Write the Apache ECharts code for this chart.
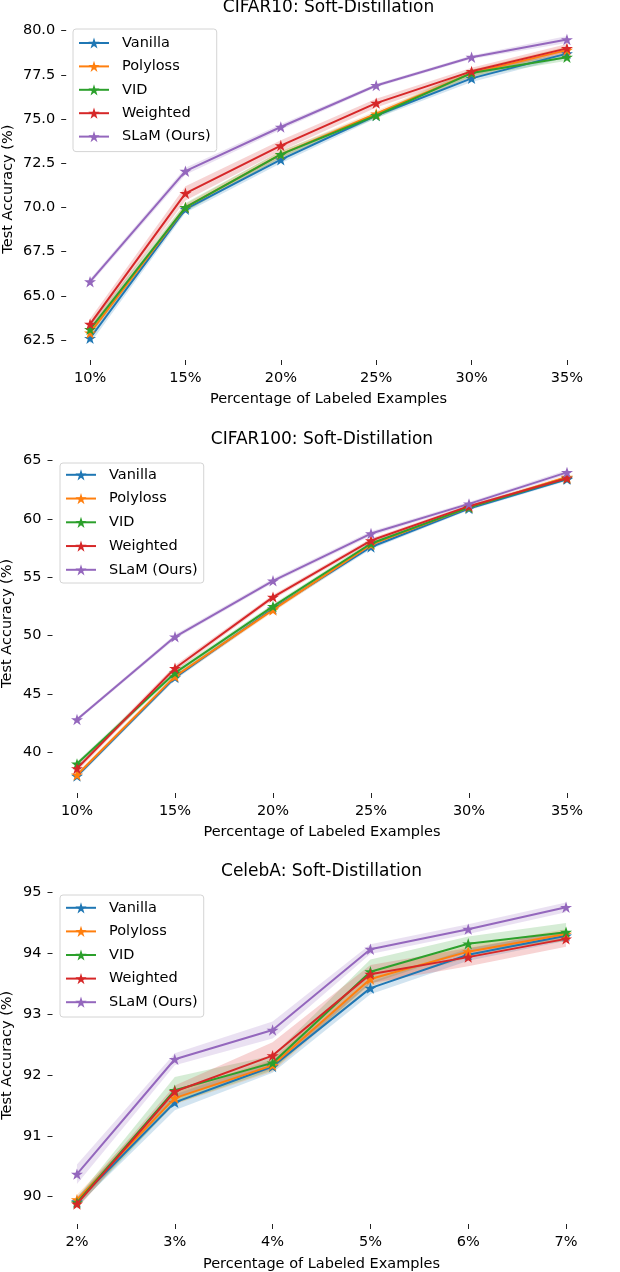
<!DOCTYPE html>
<html>
<head>
<meta charset="utf-8">
<script src="https://cdn.jsdelivr.net/npm/echarts@6/dist/echarts.min.js"></script>
<style>html,body{margin:0;padding:0;background:#fff}#c{width:620px;height:1272px}</style>
</head>
<body>
<div id="c"></div>
<script>
// ---------- data ----------
const methods = ['Vanilla', 'Polyloss', 'VID', 'Weighted', 'SLaM (Ours)'];
const xCifar = [10, 15, 20, 25, 30, 35];
const xCeleba = [2, 3, 4, 5, 6, 7];

// CIFAR10
const c10Vanilla  = [62.6, 69.9, 72.7, 75.2, 77.3, 78.7];
const c10Polyloss = [62.9, 70.0, 73.0, 75.3, 77.6, 78.9];
const c10VID      = [63.1, 70.0, 73.0, 75.2, 77.6, 78.5];
const c10Weighted = [63.4, 70.8, 73.5, 75.9, 77.7, 79.0];
const c10SLaM     = [65.8, 72.05, 74.55, 76.9, 78.5, 79.5];
const c10VanillaStd  = [0.3, 0.2, 0.2, 0.15, 0.2, 0.2];
const c10PolylossStd = [0.3, 0.2, 0.2, 0.15, 0.2, 0.2];
const c10VIDStd      = [0.3, 0.25, 0.2, 0.15, 0.2, 0.2];
const c10WeightedStd = [0.3, 0.4, 0.3, 0.25, 0.2, 0.25];
const c10SLaMStd     = [0.15, 0.2, 0.15, 0.1, 0.1, 0.2];

// CIFAR100
const c100Vanilla  = [37.95, 46.4, 52.3, 57.6, 60.9, 63.4];
const c100Polyloss = [38.05, 46.5, 52.2, 57.8, 61.0, 63.6];
const c100VID      = [39.0, 46.8, 52.5, 57.9, 61.0, 63.5];
const c100Weighted = [38.6, 47.2, 53.3, 58.15, 61.1, 63.5];
const c100SLaM     = [42.8, 49.9, 54.7, 58.75, 61.3, 64.0];
const c100VanillaStd  = [0.2, 0.2, 0.2, 0.2, 0.15, 0.15];
const c100PolylossStd = [0.2, 0.2, 0.2, 0.2, 0.15, 0.15];
const c100VIDStd      = [0.2, 0.25, 0.2, 0.2, 0.15, 0.15];
const c100WeightedStd = [0.25, 0.25, 0.2, 0.2, 0.15, 0.15];
const c100SLaMStd     = [0.15, 0.2, 0.2, 0.2, 0.15, 0.2];

// CelebA
const ceVanilla  = [89.92, 91.55, 92.14, 93.43, 93.98, 94.29];
const cePolyloss = [89.95, 91.62, 92.16, 93.58, 94.03, 94.32];
const ceVID      = [89.9, 91.75, 92.2, 93.7, 94.16, 94.35];
const ceWeighted = [89.88, 91.73, 92.32, 93.66, 93.94, 94.24];
const ceSLaM     = [90.37, 92.26, 92.74, 94.07, 94.4, 94.76];
const ceVanillaStd  = [0.08, 0.13, 0.1, 0.1, 0.1, 0.08];
const cePolylossStd = [0.08, 0.1, 0.1, 0.12, 0.1, 0.08];
const ceVIDStd      = [0.08, 0.22, 0.12, 0.2, 0.12, 0.15];
const ceWeightedStd = [0.08, 0.1, 0.22, 0.15, 0.15, 0.13];
const ceSLaMStd     = [0.16, 0.1, 0.14, 0.08, 0.08, 0.08];

const titles = ['CIFAR10: Soft-Distillation', 'CIFAR100: Soft-Distillation', 'CelebA: Soft-Distillation'];
const yTicks = [
  [62.5, 65, 67.5, 70, 72.5, 75, 77.5, 80],
  [40, 45, 50, 55, 60, 65],
  [90, 91, 92, 93, 94, 95]
];
const xTicksCifar = [10, 15, 20, 25, 30, 35];
const xTicksCeleba = [2, 3, 4, 5, 6, 7];
const xLabel = 'Percentage of Labeled Examples';
const yLabel = 'Test Accuracy (%)';

// ---------- layout / style ----------
const colors = ['#1f77b4', '#ff7f0e', '#2ca02c', '#d62728', '#9467bd'];
const bandColors = ['rgba(31,119,180,0.2)', 'rgba(255,127,14,0.2)', 'rgba(44,160,44,0.2)', 'rgba(214,39,40,0.2)', 'rgba(148,103,189,0.2)'];
const FONT = 'DejaVu Sans';
const FS = 14.5;
const STAR = 'path://M50,0 L61.2,34.5 L97.6,34.5 L68.2,55.9 L79.4,90.5 L50,69.1 L20.6,90.5 L31.8,55.9 L2.4,34.5 L38.8,34.5 Z';

const panels = [
  { xs: xCifar, xTicks: xTicksCifar, xMin: 8.75, xMax: 36.25, yMin: 61.37, yMax: 80.7,
    means: [c10Vanilla, c10Polyloss, c10VID, c10Weighted, c10SLaM],
    stds: [c10VanillaStd, c10PolylossStd, c10VIDStd, c10WeightedStd, c10SLaMStd],
    grid: { left: 66.2, width: 524.6, top: 18.3, height: 341.7 }, dec: 1, yGap: 50, xGap: 32,
    legend: { left: 73, top: 29, padding: [6.5, 6, 7.5, 5], itemGap: 8.4 }, titleY: 8 },
  { xs: xCifar, xTicks: xTicksCifar, xMin: 8.75, xMax: 36.25, yMin: 36.5, yMax: 65.6,
    means: [c100Vanilla, c100Polyloss, c100VID, c100Weighted, c100SLaM],
    stds: [c100VanillaStd, c100PolylossStd, c100VIDStd, c100WeightedStd, c100SLaMStd],
    grid: { left: 52.5, width: 539, top: 453.7, height: 339.3 }, dec: 0, yGap: 38, xGap: 32,
    legend: { left: 60, top: 463, padding: [4.3, 6, 5.7, 5], itemGap: 8.75 }, titleY: 440 },
  { xs: xCeleba, xTicks: xTicksCeleba, xMin: 1.75, xMax: 7.25, yMin: 89.55, yMax: 95.1,
    means: [ceVanilla, cePolyloss, ceVID, ceWeighted, ceSLaM],
    stds: [ceVanillaStd, cePolylossStd, ceVIDStd, ceWeightedStd, ceSLaMStd],
    grid: { left: 52.5, width: 538, top: 886.6, height: 337.4 }, dec: 0, yGap: 38, xGap: 33,
    legend: { left: 60, top: 895, padding: [5.3, 6, 7.3, 5], itemGap: 8.6 }, titleY: 872 }
];

function pairs(xs, ys) { return xs.map((x, i) => [x, ys[i]]); }

const grid = [], xAxis = [], yAxis = [], series = [], legend = [], title = [];
panels.forEach((p, g) => {
  grid.push(Object.assign({ containLabel: false, outerBoundsMode: 'none' }, p.grid));
  title.push({
    text: titles[g], left: p.grid.left + p.grid.width / 2, top: p.titleY,
    textAlign: 'center', textVerticalAlign: 'middle', padding: 0,
    textStyle: { fontFamily: FONT, fontSize: 17, fontWeight: 'normal', color: '#000' }
  });
  xAxis.push({
    type: 'value', gridIndex: g, min: p.xMin, max: p.xMax,
    axisLine: { show: false }, splitLine: { show: false },
    axisTick: { show: true, length: 5, customValues: p.xTicks, lineStyle: { color: '#222', width: 1 } },
    axisLabel: { customValues: p.xTicks, formatter: v => v + '%', fontFamily: FONT, fontSize: FS, color: '#000', margin: 11 },
    name: xLabel, nameLocation: 'middle', nameGap: p.xGap, nameMoveOverlap: false,
    nameTextStyle: { fontFamily: FONT, fontSize: FS, color: '#000' }
  });
  yAxis.push({
    type: 'value', gridIndex: g, min: p.yMin, max: p.yMax,
    axisLine: { show: false }, splitLine: { show: false },
    axisTick: { show: true, length: 5, customValues: yTicks[g], lineStyle: { color: '#222', width: 1 } },
    axisLabel: { customValues: yTicks[g], formatter: v => v.toFixed(p.dec), fontFamily: FONT, fontSize: FS, color: '#000', margin: 11 },
    name: yLabel, nameLocation: 'middle', nameGap: p.yGap, nameRotate: 90, nameMoveOverlap: false,
    nameTextStyle: { fontFamily: FONT, fontSize: FS, color: '#000' }
  });
  legend.push(Object.assign({
    data: methods, orient: 'vertical', itemWidth: 30, itemHeight: 14,
    backgroundColor: 'rgba(255,255,255,0.8)', borderColor: '#d4d4d4', borderWidth: 1, borderRadius: 3,
    textStyle: { fontFamily: FONT, fontSize: FS, color: '#000', padding: [0, 0, 0, 8] },
    selectedMode: false
  }, p.legend));

  methods.forEach((m, k) => {
    const mean = p.means[k], std = p.stds[k];
    const lower = mean.map((v, i) => v - std[i]);
    const upper = mean.map((v, i) => v + std[i]);
    series.push({
      type: 'custom', name: m + ' band', xAxisIndex: g, yAxisIndex: g, silent: true, z: 1,
      data: [[p.xs[0], mean[0]]],
      renderItem: function (params, api) {
        const pts = [];
        for (let i = 0; i < p.xs.length; i++) pts.push(api.coord([p.xs[i], upper[i]]));
        for (let i = p.xs.length - 1; i >= 0; i--) pts.push(api.coord([p.xs[i], lower[i]]));
        return { type: 'polygon', shape: { points: pts }, style: { fill: bandColors[k], stroke: null } };
      }
    });
  });
  methods.forEach((m, k) => {
    series.push({
      type: 'line', name: m, xAxisIndex: g, yAxisIndex: g,
      data: pairs(p.xs, p.means[k]),
      symbol: STAR, symbolSize: 12, symbolKeepAspect: true,
      lineStyle: { width: 2, color: colors[k] }, itemStyle: { color: colors[k] },
      z: 3 + k
    });
  });
});

const chart = echarts.init(document.getElementById('c'), null, { renderer: 'canvas' });
chart.setOption({ animation: false, backgroundColor: '#fff', title, grid, xAxis, yAxis, legend, series });
</script>
</body>
</html>
